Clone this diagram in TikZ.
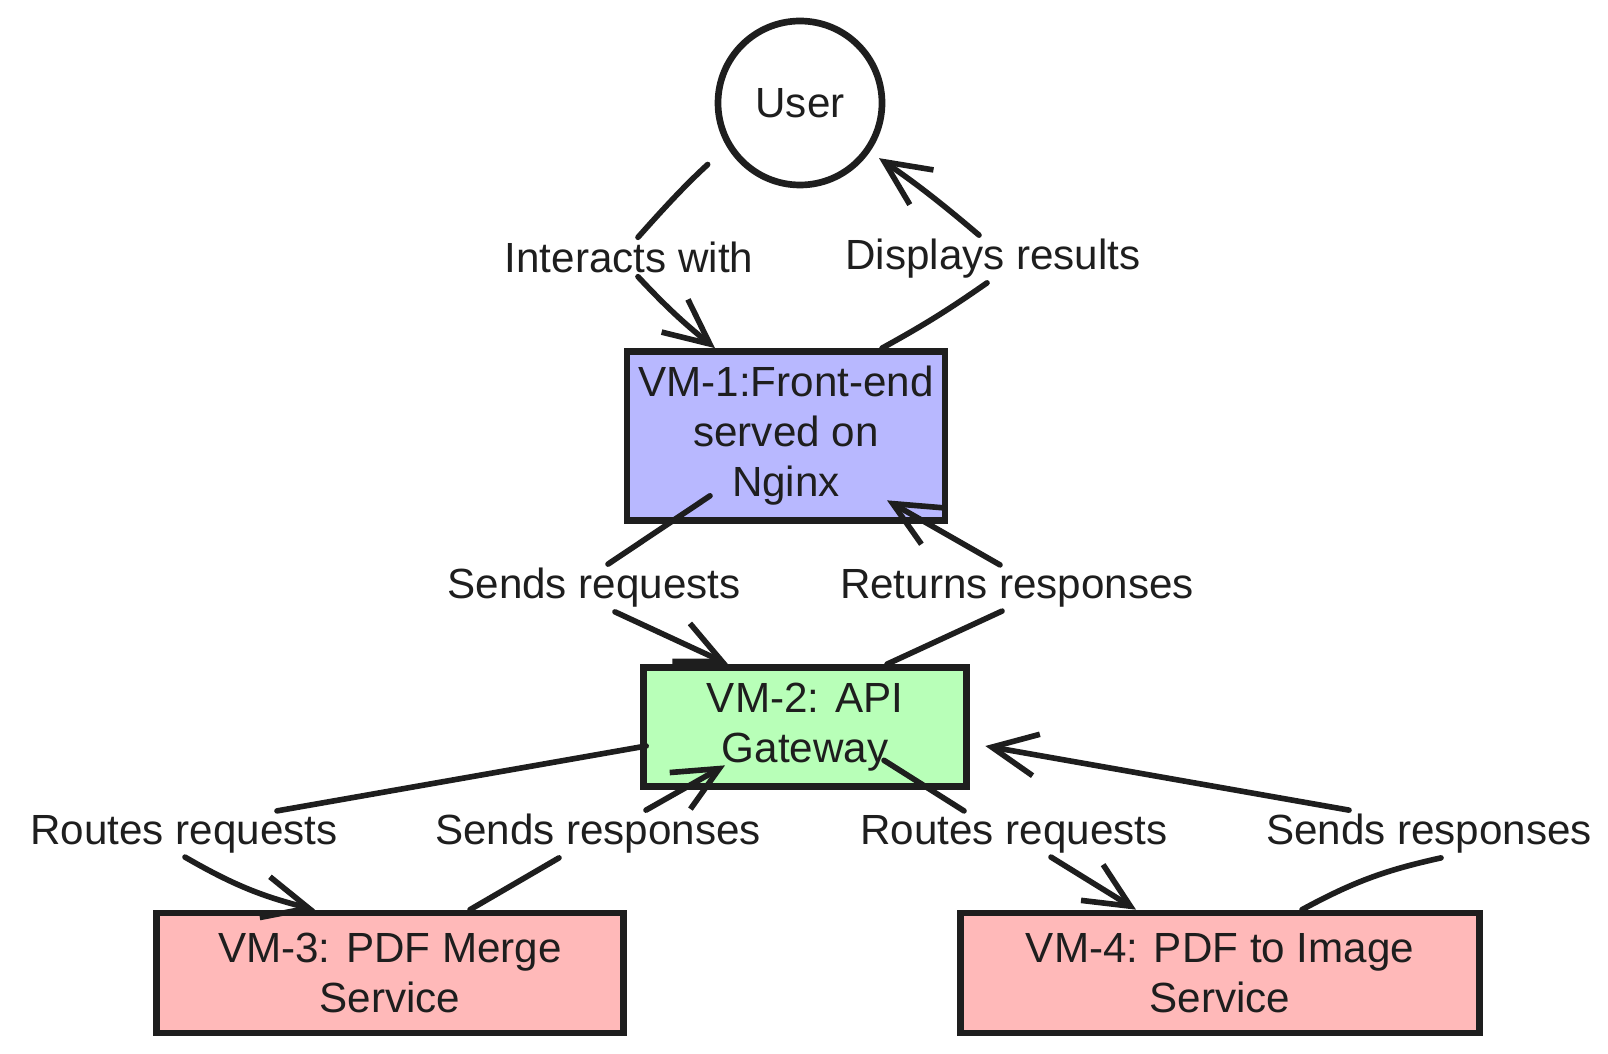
\documentclass[tikz,border=0pt]{standalone}
\usepackage{fontspec}
\setmainfont{Liberation Sans}
\usepackage{xcolor}
\usepackage{tikz}
\usetikzlibrary{arrows.meta, positioning, calc}
\definecolor{ink}{HTML}{1E1E1E}
\definecolor{vmone}{HTML}{B8B8FF}
\definecolor{vmtwo}{HTML}{B8FFB8}
\definecolor{vmsvc}{HTML}{FFB9B9}
\newcommand\sketchfont{\fontsize{12pt}{14.2pt}\selectfont}
\tikzstyle{line} = [line width=1.6pt, draw=ink, line cap=round]
\tikzstyle{arrow} = [line, -{Straight Barb[length=4.5mm,width=4.2mm]}]
\tikzstyle{actor} = [circle, draw=ink, line width=1.9pt, minimum size=1.64cm, text=ink, font=\sketchfont]
\tikzstyle{vmbox} = [rectangle, draw=ink, line width=1.9pt, text=ink, align=center, inner sep=0pt, font=\sketchfont]
\tikzstyle{edgelabel} = [text=ink, inner sep=1pt, font=\sketchfont]

\begin{document}
\begin{tikzpicture}
\useasboundingbox (0,0) rectangle (16.08,10.53);
%----------------------------------------------------------------------------
% Placement of nodes
\node (user) [actor] at (8.00,9.50) {User};
\node (vmOne) [vmbox, fill=vmone, minimum width=3.18cm, minimum height=1.69cm] at (7.86,6.17) {VM-1:Front-end\\served on\\Nginx};
\node (vmTwo) [vmbox, fill=vmtwo, minimum width=3.23cm, minimum height=1.19cm] at (8.05,3.26) {VM-2: API\\Gateway};
\node (vmThree) [vmbox, fill=vmsvc, minimum width=4.67cm, minimum height=1.20cm] at (3.90,0.80) {VM-3: PDF Merge\\Service};
\node (vmFour) [vmbox, fill=vmsvc, minimum width=5.19cm, minimum height=1.20cm] at (12.20,0.80) {VM-4: PDF to Image\\Service};

% edge labels
\node (interacts) [edgelabel] at (6.29,7.96) {Interacts with};
\node (displays) [edgelabel] at (9.93,7.94) {Displays results};
\node (sendReq) [edgelabel] at (5.94,4.65) {Sends requests};
\node (returns) [edgelabel] at (10.17,4.65) {Returns responses};
\node (routesA) [edgelabel] at (1.84,2.19) {Routes requests};
\node (sendsA) [edgelabel] at (5.98,2.19) {Sends responses};
\node (routesB) [edgelabel] at (10.14,2.19) {Routes requests};
\node (sendsB) [edgelabel] at (14.29,2.19) {Sends responses};

%----------------------------------------------------------------------------
% Draw lines
\draw [line, shorten <=0.26cm] (user.211) to[bend right=3] ([xshift=0.09cm]interacts.north);
\draw [arrow] ([xshift=0.09cm]interacts.south) to[bend right=4] ([xshift=-0.71cm]vmOne.north);

\draw [line] ([xshift=0.96cm]vmOne.north) to[bend right=3] ([xshift=-0.06cm]displays.south);
\draw [arrow, shorten >=0.11cm] ([xshift=-0.14cm]displays.north) to[bend right=3] (user.325);

\draw [line] ([xshift=-0.76cm,yshift=0.28cm]vmOne.south) -- ([xshift=0.14cm]sendReq.north);
\draw [arrow] ([xshift=0.21cm]sendReq.south) -- ([xshift=-0.77cm]vmTwo.north);

\draw [line] ([xshift=0.82cm]vmTwo.north) -- ([xshift=-0.15cm]returns.south);
\draw [arrow] ([xshift=-0.17cm]returns.north) -- ([xshift=1.01cm,yshift=0.235cm]vmOne.south);

%----------------------------------------------------------------------------
% Draw service lines
\draw [line] ([xshift=0.06cm,yshift=-0.19cm]vmTwo.west) -- ([xshift=0.93cm]routesA.north);
\draw [arrow] ([xshift=0.01cm]routesA.south) to[bend right=8] ([xshift=-0.75cm]vmThree.north);

\draw [line] ([xshift=0.80cm]vmThree.north) -- ([xshift=-0.39cm]sendsA.south);
\draw [arrow] ([xshift=0.48cm]sendsA.north) -- ([xshift=-0.80cm,yshift=0.245cm]vmTwo.south);

\draw [line] ([xshift=0.79cm,yshift=0.295cm]vmTwo.south) -- ([xshift=-0.50cm]routesB.north);
\draw [arrow] ([xshift=0.37cm]routesB.south) -- ([xshift=-0.84cm]vmFour.north);

\draw [line] ([xshift=0.82cm]vmFour.north) to[bend left=8] ([xshift=0.12cm]sendsB.south);
\draw [arrow] ([xshift=-0.80cm]sendsB.north) -- ([xshift=0.155cm,yshift=-0.19cm]vmTwo.east);

\end{tikzpicture}
\end{document}
